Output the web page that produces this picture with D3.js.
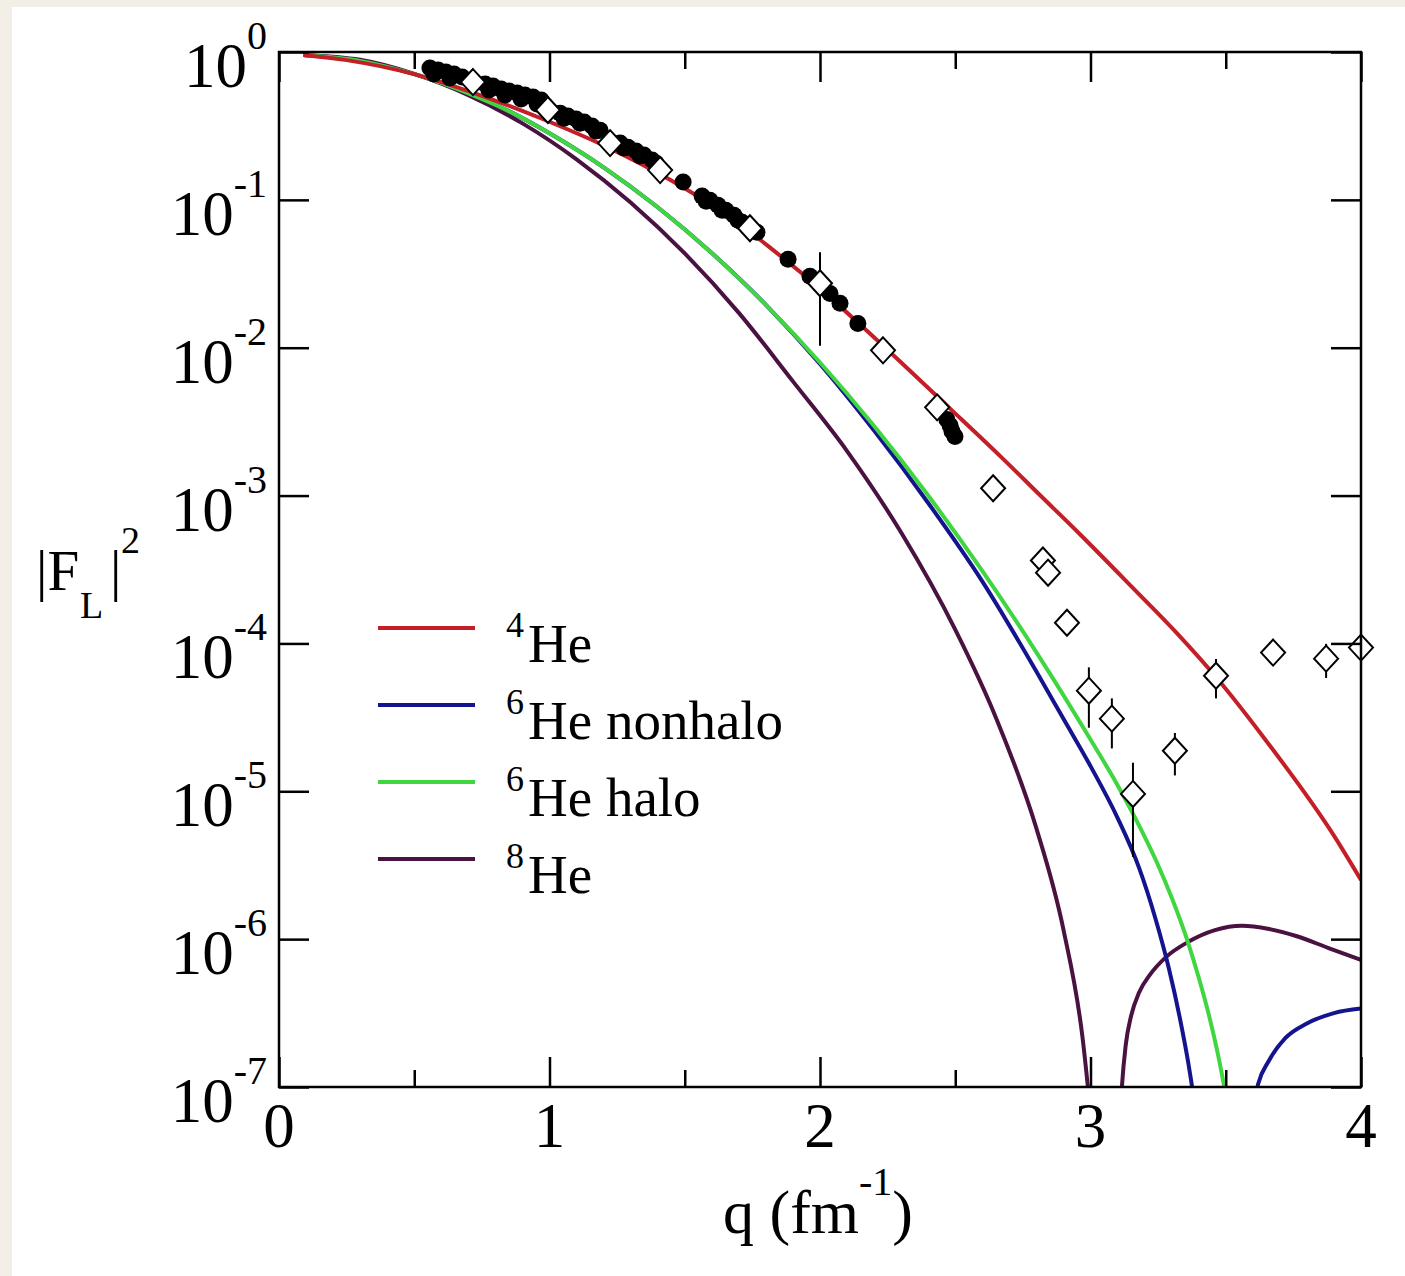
<!DOCTYPE html>
<html>
<head>
<meta charset="utf-8">
<script src="https://cdn.jsdelivr.net/npm/d3@7"></script>
<style>
  html, body { margin: 0; padding: 0; background: #f3efe6; }
  svg { display: block; }
  text { font-family: "Liberation Serif", "Times New Roman", serif; fill: #000; }
</style>
</head>
<body>
<svg id="chart" width="1405" height="1276"></svg>
<script>
// ---- Longitudinal form factors |F_L|^2 of helium isotopes ----

// 4He
const he4Q = [0.09, 0.25, 0.50, 0.74, 0.97, 1.21, 1.46, 1.70, 1.82, 2.00, 2.14, 2.30, 2.48, 2.67, 2.81, 2.96, 3.16, 3.32, 3.47, 3.65, 3.90, 4.00];
const he4V = [0.955, 0.881, 0.708, 0.513, 0.355, 0.229, 0.132, 0.0692, 0.0468, 0.0251, 0.0148, 0.00794, 0.00389, 0.00182, 0.00102, 5.50e-4, 2.34e-4, 1.17e-4, 5.75e-5, 2.19e-5, 5.01e-6, 2.51e-6];

// 6He nonhalo (zero near q = 3.4, second lobe rising toward q = 4)
const he6nQ = [0.09, 0.30, 0.50, 0.70, 0.85, 1.00, 1.20, 1.40, 1.60, 1.80, 2.00, 2.20, 2.40, 2.60, 2.80, 2.90, 3.00, 3.10, 3.18, 3.24, 3.29, 3.33, 3.36, 3.38, 3.40, 3.60, 3.62, 3.66, 3.72, 3.80, 3.90, 4.00];
const he6nV = [0.955, 0.871, 0.708, 0.525, 0.398, 0.282, 0.166, 0.0891, 0.0437, 0.0195, 0.00776, 0.00275, 8.91e-4, 2.63e-4, 6.46e-5, 3.09e-5, 1.48e-5, 6.61e-6, 3.02e-6, 1.38e-6, 6.31e-7, 2.95e-7, 1.51e-7, 8.91e-8, 2.51e-8, 7.08e-8, 1.05e-7, 1.51e-7, 2.14e-7, 2.69e-7, 3.16e-7, 3.39e-7];

// 6He halo (zero near q = 3.5)
const he6hQ = [0.09, 0.30, 0.50, 0.70, 0.85, 1.00, 1.20, 1.40, 1.60, 1.80, 2.00, 2.20, 2.40, 2.60, 2.80, 3.00, 3.10, 3.19, 3.25, 3.30, 3.36, 3.40, 3.44, 3.47, 3.50, 3.52];
const he6hV = [0.955, 0.871, 0.708, 0.525, 0.398, 0.282, 0.166, 0.0891, 0.0437, 0.0195, 0.00794, 0.00295, 0.001, 3.09e-4, 8.71e-5, 2.24e-5, 1.10e-5, 5.37e-6, 3.16e-6, 1.91e-6, 9.55e-7, 5.50e-7, 2.95e-7, 1.70e-7, 8.91e-8, 3.16e-8];

// 8He (zero near q = 3.05, second maximum near q = 3.55)
const he8Q = [0.09, 0.30, 0.50, 0.70, 0.90, 1.10, 1.30, 1.50, 1.70, 1.90, 2.10, 2.30, 2.50, 2.65, 2.80, 2.90, 2.97, 3.01, 3.09, 3.116, 3.13, 3.15, 3.18, 3.22, 3.28, 3.36, 3.46, 3.56, 3.66, 3.76, 3.88, 4.00];
const he8V = [0.955, 0.885, 0.711, 0.511, 0.329, 0.188, 0.0959, 0.0434, 0.0172, 0.00592, 0.0020, 5.62e-4, 1.24e-4, 3.16e-5, 5.61e-6, 1.16e-6, 2.20e-7, 4.32e-8, 1.0e-8, 1.0e-7, 1.91e-7, 3.02e-7, 4.37e-7, 5.75e-7, 7.59e-7, 9.55e-7, 1.15e-6, 1.23e-6, 1.17e-6, 1.05e-6, 8.71e-7, 7.24e-7];

// measured 4He data, filled circles
const circQ = [0.558, 0.573, 0.588, 0.617, 0.632, 0.647, 0.677, 0.762, 0.776, 0.791, 0.821, 0.835, 0.850, 0.880, 0.895, 0.909, 0.939, 0.954, 0.969, 1.039, 1.054, 1.068, 1.098, 1.113, 1.128, 1.157, 1.172, 1.187, 1.261, 1.275, 1.290, 1.320, 1.335, 1.349, 1.379, 1.394, 1.494, 1.564, 1.579, 1.593, 1.623, 1.638, 1.652, 1.682, 1.697, 1.712, 1.767, 1.882, 1.963, 2.037, 2.074, 2.140, 2.469, 2.481, 2.488, 2.499];
const circV = [0.779, 0.710, 0.755, 0.732, 0.667, 0.710, 0.677, 0.607, 0.553, 0.589, 0.561, 0.512, 0.545, 0.528, 0.481, 0.512, 0.496, 0.445, 0.473, 0.386, 0.357, 0.369, 0.352, 0.330, 0.336, 0.316, 0.292, 0.296, 0.242, 0.224, 0.227, 0.214, 0.198, 0.201, 0.186, 0.177, 0.132, 0.106, 0.098, 0.0995, 0.0921, 0.0851, 0.0851, 0.0787, 0.0729, 0.0706, 0.0604, 0.0397, 0.0304, 0.0233, 0.0200, 0.0146, 0.00327, 0.00298, 0.00272, 0.00251];

// measured 4He data, open diamonds, with errors (0 = no bar)
const diaQ = [0.717, 0.994, 1.224, 1.409, 1.741, 2.000, 2.233, 2.433, 2.640, 2.824, 2.843, 2.913, 2.994, 3.079, 3.157, 3.312, 3.464, 3.675, 3.871, 4.000];
const diaV = [0.626, 0.405, 0.242, 0.159, 0.0643, 0.0273, 0.0096, 0.00395, 0.00112, 3.64e-4, 3.01e-4, 1.38e-4, 4.79e-5, 3.10e-5, 9.6e-6, 1.88e-5, 6.05e-5, 8.67e-5, 7.89e-5, 9.37e-5];
const diaErr = [0, 0, 0, 0, 0, 0.017, 0, 0, 0, 0, 0, 0, 2.1e-5, 1.15e-5, 6e-6, 6e-6, 1.8e-5, 0, 2.05e-5, 0];

// axes
const xMajor = [0, 1, 2, 3, 4];
const xMinor = [0.5, 1.5, 2.5, 3.5];
const yExponents = [0, -1, -2, -3, -4, -5, -6, -7];

const seriesNames = ["He", "He nonhalo", "He halo", "He"];
const seriesMass = ["4", "6", "6", "8"];

// ---- drawing ----
const W = 1405, H = 1276;
const P = { left: 279, right: 1361, top: 52, bottom: 1087 };
const colors = ["#c41f27", "#14148f", "#40d640", "#4a1240"];

const svg = d3.select("#chart");
svg.append("rect").attr("width", W).attr("height", H).attr("fill", "#f3efe6");
svg.append("rect").attr("x", 12).attr("y", 7).attr("width", W - 12).attr("height", H - 7).attr("fill", "#ffffff");

const x = d3.scaleLinear().domain([0, 4]).range([P.left, P.right]);
const y = d3.scaleLog().domain([1e-7, 1]).range([P.bottom, P.top]);

svg.append("clipPath").attr("id", "plotClip")
  .append("rect").attr("x", P.left).attr("y", P.top)
  .attr("width", P.right - P.left).attr("height", P.bottom - P.top);

// curves: split into branches wherever the curve dips below the axis floor
function branches(qs, vs) {
  const out = [];
  let cur = [];
  qs.forEach((q, i) => {
    const p = [q, vs[i]];
    const below = vs[i] < 1e-7;
    if (below && cur.length && cur[cur.length - 1][1] < 1e-7) {
      out.push(cur);
      cur = [p];
    } else {
      cur.push(p);
    }
  });
  if (cur.length) out.push(cur);
  return out.filter(s => s.length > 1);
}

const line = d3.line().x(d => x(d[0])).y(d => y(d[1])).curve(d3.curveMonotoneX);
const curves = [[he4Q, he4V], [he6nQ, he6nV], [he6hQ, he6hV], [he8Q, he8V]];
const curveG = svg.append("g").attr("clip-path", "url(#plotClip)");
// 8He underneath, 4He on top
[3, 1, 2, 0].forEach(k => {
  branches(curves[k][0], curves[k][1]).forEach(seg => {
    curveG.append("path").attr("d", line(seg))
      .attr("fill", "none").attr("stroke", colors[k])
      .attr("stroke-width", 4).attr("stroke-linejoin", "round");
  });
});

// filled circles
svg.append("g").selectAll("circle").data(circQ.map((q, i) => [q, circV[i]]))
  .join("circle")
  .attr("cx", d => x(d[0])).attr("cy", d => y(d[1])).attr("r", 8.5)
  .attr("fill", "#000");

// diamonds with error bars
const dia = diaQ.map((q, i) => ({ q, v: diaV[i], e: diaErr[i] }));
svg.append("g").selectAll("line").data(dia.filter(d => d.e > 0))
  .join("line")
  .attr("x1", d => x(d.q)).attr("x2", d => x(d.q))
  .attr("y1", d => y(d.v + d.e)).attr("y2", d => y(Math.max(d.v - d.e, 1e-9)))
  .attr("stroke", "#000").attr("stroke-width", 2);
svg.append("g").selectAll("path").data(dia)
  .join("path")
  .attr("d", d => {
    const cx = x(d.q), cy = y(d.v), a = 12, b = 13;
    return `M${cx},${cy - b}L${cx + a},${cy}L${cx},${cy + b}L${cx - a},${cy}Z`;
  })
  .attr("fill", "#fff").attr("stroke", "#000").attr("stroke-width", 2);

// axes with inward ticks
function styleAxis(g) {
  g.select(".domain").remove();
  g.selectAll("line").attr("stroke", "#000").attr("stroke-width", 2.5);
}
svg.append("g").attr("transform", `translate(0,${P.bottom})`)
  .call(d3.axisBottom(x).tickValues(xMajor).tickSize(-30).tickSizeOuter(0).tickFormat(""))
  .call(styleAxis);
svg.append("g").attr("transform", `translate(0,${P.bottom})`)
  .call(d3.axisBottom(x).tickValues(xMinor).tickSize(-17).tickSizeOuter(0).tickFormat(""))
  .call(styleAxis);
svg.append("g").attr("transform", `translate(0,${P.top})`)
  .call(d3.axisTop(x).tickValues(xMajor).tickSize(-30).tickSizeOuter(0).tickFormat(""))
  .call(styleAxis);
svg.append("g").attr("transform", `translate(0,${P.top})`)
  .call(d3.axisTop(x).tickValues(xMinor).tickSize(-17).tickSizeOuter(0).tickFormat(""))
  .call(styleAxis);
const yTickVals = yExponents.map(e => Math.pow(10, e));
svg.append("g").attr("transform", `translate(${P.left},0)`)
  .call(d3.axisLeft(y).tickValues(yTickVals).tickSize(-30).tickSizeOuter(0).tickFormat(""))
  .call(styleAxis);
svg.append("g").attr("transform", `translate(${P.right},0)`)
  .call(d3.axisRight(y).tickValues(yTickVals).tickSize(-30).tickSizeOuter(0).tickFormat(""))
  .call(styleAxis);

// frame
svg.append("rect").attr("x", P.left).attr("y", P.top)
  .attr("width", P.right - P.left).attr("height", P.bottom - P.top)
  .attr("fill", "none").attr("stroke", "#000").attr("stroke-width", 2.5);

// x tick labels
svg.append("g").selectAll("text").data(xMajor).join("text")
  .attr("x", d => x(d)).attr("y", P.bottom + 60)
  .attr("text-anchor", "middle").attr("font-size", 63)
  .text(d => d);

// y tick labels 10^n
yExponents.forEach(e => {
  const ty = y(Math.pow(10, e));
  const t = svg.append("text").attr("x", 267).attr("y", ty + 35)
    .attr("text-anchor", "end");
  t.append("tspan").attr("font-size", 63).text("10");
  t.append("tspan").attr("font-size", 40).attr("dy", -38).text(e === 0 ? "0" : "-" + (-e));
});

// y axis title |F_L|^2
const yt = svg.append("text").attr("y", 590);
yt.append("tspan").attr("x", 36).attr("font-size", 57).text("|F");
yt.append("tspan").attr("x", 80).attr("dy", 28).attr("font-size", 38).text("L");
yt.append("tspan").attr("x", 110).attr("dy", -28).attr("font-size", 57).text("|");
yt.append("tspan").attr("x", 121).attr("dy", -37).attr("font-size", 38).text("2");

// x axis title q (fm^-1)
const xt = svg.append("text").attr("x", 723).attr("y", 1233);
xt.append("tspan").attr("font-size", 62).text("q (fm");
xt.append("tspan").attr("font-size", 40).attr("dy", -38).text("-1");
xt.append("tspan").attr("font-size", 62).attr("dy", 38).text(")");

// legend
const legY0 = 628, legStep = 77;
seriesNames.forEach((name, i) => {
  const ly = legY0 + i * legStep;
  svg.append("line").attr("x1", 378).attr("x2", 475).attr("y1", ly).attr("y2", ly)
    .attr("stroke", colors[i]).attr("stroke-width", 4);
  svg.append("text").attr("x", 506).attr("y", ly + 9).attr("font-size", 36).text(seriesMass[i]);
  svg.append("text").attr("x", 528).attr("y", ly + 34).attr("font-size", 55).text(name);
});
</script>
</body>
</html>
